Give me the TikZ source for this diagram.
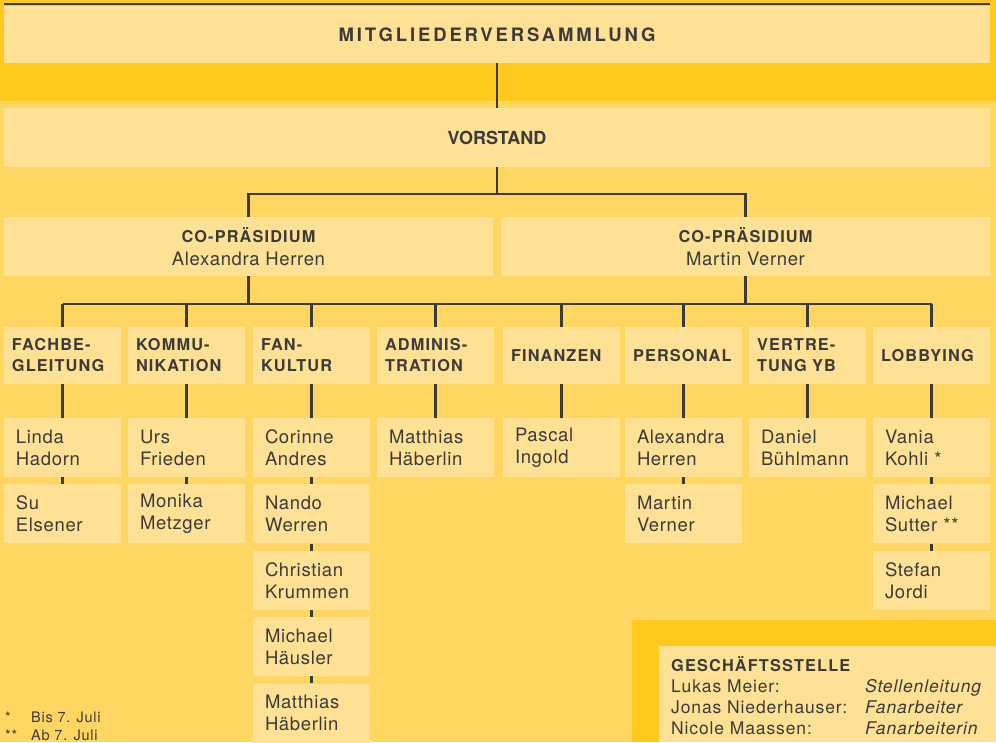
\documentclass[tikz,border=0pt]{standalone}
\usepackage{fontspec}
\setmainfont{TeX Gyre Heros}[LetterSpace=3.5]
\newfontfamily\mvfont{TeX Gyre Heros}[LetterSpace=15.5]
\newfontfamily\plainfont{TeX Gyre Heros}
\newfontfamily\capfont{TeX Gyre Heros}[LetterSpace=7]
\newfontfamily\gsfont{TeX Gyre Heros}[LetterSpace=5]
\newfontfamily\notefont{TeX Gyre Heros}[LetterSpace=5]
\usetikzlibrary{positioning}
\definecolor{band}{HTML}{FFCA1D}
\definecolor{ground}{HTML}{FFD662}
\definecolor{pale}{HTML}{FFE195}
\definecolor{ink}{HTML}{3B3B3B}
\newcommand{\gsrow}[2]{\makebox[194pt][l]{#1}\textit{#2}}

\begin{document}
\begin{tikzpicture}[x=1pt,y=-1pt,
  box/.style={fill=pale, inner sep=0pt, text=ink},
  headbox/.style={box, minimum width=986pt, minimum height=57pt, font=\fontsize{18}{22}\plainfont\bfseries},
  presbox/.style={box, minimum width=489pt, minimum height=59pt, align=center, font=\fontsize{18.5}{22.5}\selectfont},
  deptbox/.style={box, text width=101pt, inner xsep=8pt, minimum height=57pt, align=left, font=\fontsize{16.3}{21}\capfont\bfseries},
  namebox/.style={box, text width=93pt, inner xsep=12pt, minimum height=59pt, align=left, font=\fontsize{18.5}{22}\selectfont},
  link/.style={draw=ink, line width=2.8pt},
  small/.style={inner sep=0pt, text=ink, font=\fontsize{14.5}{18}\notefont}]
  \useasboundingbox (0,0) rectangle (996,742);
  % background bands
  \fill[ground] (0,0) rectangle (996,742);
  \fill[band] (0,0) rectangle (996,101);
  \draw[ink, line width=1.8pt] (4,4.2) -- (990,4.2);

  % top levels
  \node[headbox, font=\fontsize{18.5}{22}\mvfont\bfseries] (mv) at (497,34.5) {MITGLIEDERVERSAMMLUNG};
  \node[headbox, minimum height=59pt] (vor) at (497,137.5) {VORSTAND};
  \node[presbox] (cpl) at (248.5,246.5)
       {{\fontsize{16.3}{22.5}\capfont\bfseries CO-PRÄSIDIUM}\\Alexandra Herren};
  \node[presbox] (cpr) at (745.5,246.5)
       {{\fontsize{16.3}{22.5}\capfont\bfseries CO-PRÄSIDIUM}\\Martin Verner};

  % departments
  \node[deptbox] (d1) at (62.5,355.5) {FACHBE-\\GLEITUNG};
  \node[deptbox] (d2) at (186.5,355.5) {KOMMU-\\NIKATION};
  \node[deptbox] (d3) at (311.5,355.5) {FAN-\\KULTUR};
  \node[deptbox] (d4) at (435.5,355.5) {ADMINIS-\\TRATION};
  \node[deptbox] (d5) at (561.5,355.5) {FINANZEN};
  \node[deptbox] (d6) at (683.5,355.5) {PERSONAL};
  \node[deptbox] (d7) at (807.5,355.5) {VERTRE-\\TUNG YB};
  \node[deptbox] (d8) at (931.5,355.5) {LOBBYING};

  % people
  \node[namebox] (p1a) at (62.5,447.5) {Linda\\Hadorn};
  \node[namebox, below=7pt of p1a] (p1b) {Su\\Elsener};
  \node[namebox] (p2a) at (186.5,447.5) {Urs\\Frieden};
  \node[namebox, below=7pt of p2a] (p2b) {Monika\\Metzger};
  \node[namebox] (p3a) at (311.5,447.5) {Corinne\\Andres};
  \node[namebox, below=7pt of p3a] (p3b) {Nando\\Werren};
  \node[namebox, below=7pt of p3b] (p3c) {Christian\\Krummen};
  \node[namebox, below=7pt of p3c] (p3d) {Michael\\Häusler};
  \node[namebox, below=7pt of p3d] (p3e) {Matthias\\Häberlin};
  \node[namebox] (p4a) at (435.5,447.5) {Matthias\\Häberlin};
  \node[namebox] (p5a) at (561.5,447.5) {Pascal\\Ingold};
  \node[namebox] (p6a) at (683.5,447.5) {Alexandra\\Herren};
  \node[namebox, below=7pt of p6a] (p6b) {Martin\\Verner};
  \node[namebox] (p7a) at (807.5,447.5) {Daniel\\Bühlmann};
  \node[namebox] (p8a) at (931.5,447.5) {Vania\\Kohli *};
  \node[namebox, below=7pt of p8a] (p8b) {Michael\\Sutter **};
  \node[namebox, below=7pt of p8b] (p8c) {Stefan\\Jordi};

  % connectors
  \coordinate (bus1) at (497,194);
  \coordinate (bus2) at (497,304);
  \draw[link] (mv.south) -- (vor.north);
  \draw[link] (vor.south) -- (bus1);
  \draw[link] (cpl.north) -- (cpl.north |- bus1) -- (cpr.north |- bus1) -- (cpr.north);
  \draw[link] (cpl.south) -- (cpl.south |- bus2);
  \draw[link] (cpr.south) -- (cpr.south |- bus2);
  \draw[link] (d1.north |- bus2) -- (d8.north |- bus2);
  \foreach \d in {d1,d2,d3,d4,d5,d6,d7,d8}
    \draw[link] (\d.north |- bus2) -- (\d.north);
  \foreach \a/\b in {d1/p1a,p1a/p1b,d2/p2a,p2a/p2b,d3/p3a,p3a/p3b,p3b/p3c,p3c/p3d,p3d/p3e,
                     d4/p4a,d5/p5a,d6/p6a,p6a/p6b,d7/p7a,d8/p8a,p8a/p8b,p8b/p8c}
    \draw[link] (\a.south) -- (\b.north);

  % geschaeftsstelle
  \fill[band] (632,620) rectangle (996,742);
  \fill[pale] (659,646) rectangle (996,742);
  \node[small, font=\fontsize{17.5}{21}\gsfont, align=left, anchor=north west] (gs) at (671,656)
       {{\fontsize{16.3}{21}\capfont\bfseries GESCHÄFTSSTELLE}\\
        \gsrow{Lukas Meier:}{Stellenleitung}\\
        \gsrow{Jonas Niederhauser:}{Fanarbeiter}\\
        \gsrow{Nicole Maassen:}{Fanarbeiterin}};

  % footnotes
  \node[small, anchor=base west] (fn1) at (5,722) {\makebox[26pt][l]{*}Bis 7. Juli};
  \node[small, anchor=base west] (fn2) at (5,740) {\makebox[26pt][l]{**}Ab 7. Juli};
\end{tikzpicture}
\end{document}
